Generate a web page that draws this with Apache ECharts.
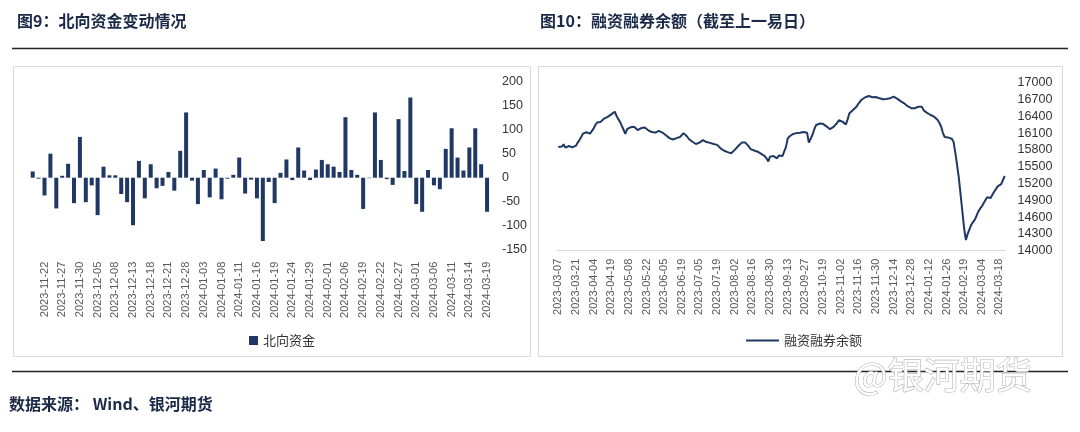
<!DOCTYPE html>
<html>
<head>
<meta charset="utf-8">
<script src="https://cdn.jsdelivr.net/npm/echarts@6/dist/echarts.min.js"></script>
<style>
html,body{margin:0;padding:0;background:#fff;}
#c{width:1080px;height:432px;}
</style>
</head>
<body>
<div id="c"></div>
<script>
// ---- Northbound flows (亿元) ----
const nbDates = [
'2023-11-20','2023-11-21','2023-11-22','2023-11-23','2023-11-24','2023-11-27','2023-11-28','2023-11-29','2023-11-30',
'2023-12-01','2023-12-04','2023-12-05','2023-12-06','2023-12-07','2023-12-08','2023-12-11','2023-12-12','2023-12-13','2023-12-14','2023-12-15','2023-12-18','2023-12-19','2023-12-20','2023-12-21','2023-12-22','2023-12-27','2023-12-28','2023-12-29',
'2024-01-02','2024-01-03','2024-01-04','2024-01-05','2024-01-08','2024-01-09','2024-01-10','2024-01-11','2024-01-12','2024-01-15','2024-01-16','2024-01-17','2024-01-18','2024-01-19','2024-01-22','2024-01-23','2024-01-24','2024-01-25','2024-01-26','2024-01-29','2024-01-30','2024-01-31',
'2024-02-01','2024-02-02','2024-02-05','2024-02-06','2024-02-07','2024-02-08','2024-02-19','2024-02-20','2024-02-21','2024-02-22','2024-02-23','2024-02-26','2024-02-27','2024-02-28','2024-02-29',
'2024-03-01','2024-03-04','2024-03-05','2024-03-06','2024-03-07','2024-03-08','2024-03-11','2024-03-12','2024-03-13','2024-03-14','2024-03-15','2024-03-18','2024-03-19'
];
const nbValues = [
13,-2,-37,50,-64,4,29,-53,85,
-51,-16,-78,23,5,5,-34,-51,-99,35,-43,28,-22,-17,12,-27,56,136,-6,
-55,16,-41,19,-45,-2,6,42,-33,-4,-43,-132,-9,-53,10,38,-5,63,15,-5,17,37,
28,23,12,126,16,6,-65,-1,136,37,-3,-15,122,14,167,
-55,-71,16,-16,-24,60,103,42,15,63,103,28,-71
];
const nbTicks = [-150,-100,-50,0,50,100,150,200];

// ---- Margin balance (亿元) ----
const mgDates = [
'2023-03-07','2023-03-08','2023-03-09','2023-03-10','2023-03-13','2023-03-14','2023-03-15','2023-03-16','2023-03-17','2023-03-20','2023-03-21','2023-03-22','2023-03-23','2023-03-24','2023-03-27','2023-03-28','2023-03-29','2023-03-30','2023-03-31',
'2023-04-03','2023-04-04','2023-04-06','2023-04-07','2023-04-10','2023-04-11','2023-04-12','2023-04-13','2023-04-14','2023-04-17','2023-04-18','2023-04-19','2023-04-20','2023-04-21','2023-04-24','2023-04-25','2023-04-26','2023-04-27','2023-04-28',
'2023-05-04','2023-05-05','2023-05-08','2023-05-09','2023-05-10','2023-05-11','2023-05-12','2023-05-15','2023-05-16','2023-05-17','2023-05-18','2023-05-19','2023-05-22','2023-05-23','2023-05-24','2023-05-25','2023-05-26','2023-05-29','2023-05-30','2023-05-31',
'2023-06-01','2023-06-02','2023-06-05','2023-06-06','2023-06-07','2023-06-08','2023-06-09','2023-06-12','2023-06-13','2023-06-14','2023-06-15','2023-06-16','2023-06-19','2023-06-20','2023-06-21','2023-06-26','2023-06-27','2023-06-28','2023-06-29','2023-06-30',
'2023-07-03','2023-07-04','2023-07-05','2023-07-06','2023-07-07','2023-07-10','2023-07-11','2023-07-12','2023-07-13','2023-07-14','2023-07-17','2023-07-18','2023-07-19','2023-07-20','2023-07-21','2023-07-24','2023-07-25','2023-07-26','2023-07-27','2023-07-28','2023-07-31',
'2023-08-01','2023-08-02','2023-08-03','2023-08-04','2023-08-07','2023-08-08','2023-08-09','2023-08-10','2023-08-11','2023-08-14','2023-08-15','2023-08-16','2023-08-17','2023-08-18','2023-08-21','2023-08-22','2023-08-23','2023-08-24','2023-08-25','2023-08-28','2023-08-29','2023-08-30','2023-08-31',
'2023-09-01','2023-09-04','2023-09-05','2023-09-06','2023-09-07','2023-09-08','2023-09-11','2023-09-12','2023-09-13','2023-09-14','2023-09-15','2023-09-18','2023-09-19','2023-09-20','2023-09-21','2023-09-22','2023-09-25','2023-09-26','2023-09-27','2023-09-28',
'2023-10-09','2023-10-10','2023-10-11','2023-10-12','2023-10-13','2023-10-16','2023-10-17','2023-10-18','2023-10-19','2023-10-20','2023-10-23','2023-10-24','2023-10-25','2023-10-26','2023-10-27','2023-10-30','2023-10-31',
'2023-11-01','2023-11-02','2023-11-03','2023-11-06','2023-11-07','2023-11-08','2023-11-09','2023-11-10','2023-11-13','2023-11-14','2023-11-15','2023-11-16','2023-11-17','2023-11-20','2023-11-21','2023-11-22','2023-11-23','2023-11-24','2023-11-27','2023-11-28','2023-11-29','2023-11-30',
'2023-12-01','2023-12-04','2023-12-05','2023-12-06','2023-12-07','2023-12-08','2023-12-11','2023-12-12','2023-12-13','2023-12-14','2023-12-15','2023-12-18','2023-12-19','2023-12-20','2023-12-21','2023-12-22','2023-12-25','2023-12-26','2023-12-27','2023-12-28','2023-12-29',
'2024-01-02','2024-01-03','2024-01-04','2024-01-05','2024-01-08','2024-01-09','2024-01-10','2024-01-11','2024-01-12','2024-01-15','2024-01-16','2024-01-17','2024-01-18','2024-01-19','2024-01-22','2024-01-23','2024-01-24','2024-01-25','2024-01-26','2024-01-29','2024-01-30','2024-01-31',
'2024-02-01','2024-02-02','2024-02-05','2024-02-06','2024-02-07','2024-02-08','2024-02-19','2024-02-20','2024-02-21','2024-02-22','2024-02-23','2024-02-26','2024-02-27','2024-02-28','2024-02-29',
'2024-03-01','2024-03-04','2024-03-05','2024-03-06','2024-03-07','2024-03-08','2024-03-11','2024-03-12','2024-03-13','2024-03-14','2024-03-15','2024-03-18','2024-03-19','2024-03-20','2024-03-21'
];
const mgValues = [
15850,15875,15860,15900,15840,15860,15870,15855,15845,15860,15875,15930,15975,16030,16090,16125,16115,16110,16090,16060,
16180,16245,16290,16305,16300,16330,16360,16355,16390,16400,16435,16460,16482,16410,16350,16300,16230,16160,16085,16170,
16180,16205,16220,16215,16180,16155,16175,16190,16205,16200,16170,16150,16125,16120,16105,16110,16125,16140,16135,16110,
16095,16060,16035,16010,15995,15985,15995,16010,16025,16030,16048,16100,16125,16040,15995,15960,15946,15920,15905,15915,
15930,15955,15975,15960,15940,15930,15925,15910,15905,15900,15890,15860,15828,15800,15785,15768,15760,15745,15740,15770,
15800,15830,15870,15900,15930,15946,15930,15905,15860,15815,15800,15790,15775,15768,15750,15730,15709,15690,15650,15595,
15680,15709,15690,15670,15650,15700,15720,15690,15655,15850,16000,16040,16070,16084,16090,16100,16105,16107,16110,16120,
16125,16107,15930,15960,16066,16160,16240,16255,16270,16274,16265,16245,16220,16195,16170,16185,16210,16215,16280,16330,
16334,16305,16280,16256,16350,16453,16480,16512,16540,16572,16620,16661,16700,16730,16740,16735,16762,16755,16740,16739,
16745,16730,16721,16715,16705,16703,16710,16700,16721,16735,16750,16740,16715,16691,16670,16650,16632,16610,16580,16554,
16545,16560,16542,16560,16572,16575,16572,16510,16482,16460,16440,16423,16410,16393,16370,16334,16280,16214,16100,16030,
16007,16020,16048,16000,15946,15750,15530,15300,15000,14700,14400,14190,14300,14380,14460,14510,14550,14620,14696,14750,
14790,14816,14900,14953,14945,14940,15000,15053,15100,15150,15185,15190,15200,15334
];
const mgTicks = [14000,14300,14600,14900,15200,15500,15800,16100,16400,16700,17000];

const NAVY = '#1f3864';
const chart = echarts.init(document.getElementById('c'), null, {renderer:'canvas'});
const titleStyle = {fontSize:16, fontWeight:'bold', color:'#1b2a47', fontFamily:'Noto Sans CJK SC'};
const axisFont = 'Liberation Sans';
const plain = function(v){ return String(v); };

const option = {
  animation:false,
  backgroundColor:'#fff',
  title:[
    {text:'图9：北向资金变动情况', left:12, top:8, textStyle:titleStyle},
    {text:'图10：融资融券余额（截至上一易日）', left:535, top:8, textStyle:titleStyle}
  ],
  legend:[
    {data:['北向资金'], left:244, top:329, itemWidth:9, itemHeight:9, icon:'rect',
     textStyle:{fontSize:13, color:'#333', fontFamily:'Noto Sans CJK SC'}},
    {data:['融资融券余额'], left:741, top:329, itemWidth:33, itemHeight:2, icon:'rect',
     textStyle:{fontSize:13, color:'#333', fontFamily:'Noto Sans CJK SC'}}
  ],
  grid:[
    {left:29.75, right:590, top:81.7, bottom:182.3},
    {left:557.4, right:74.4, top:82.7, bottom:181.3}
  ],
  xAxis:[
    {type:'category', gridIndex:0, data:nbDates, boundaryGap:true,
     axisLine:{show:false}, axisTick:{show:false},
     axisLabel:{rotate:90, fontSize:11, color:'#595959', fontFamily:axisFont, margin:12,
       interval:function(i){return (i-2)%3===0;}}},
    {type:'category', gridIndex:1, data:mgDates, boundaryGap:true,
     axisLine:{show:true, lineStyle:{color:'#d9d9d9', width:1}}, axisTick:{show:false},
     axisLabel:{rotate:90, fontSize:11, color:'#595959', fontFamily:axisFont, margin:8, interval:9}}
  ],
  yAxis:[
    {type:'value', gridIndex:0, position:'right', min:nbTicks[0], max:nbTicks[nbTicks.length-1], interval:50,
     axisLine:{show:false}, axisTick:{show:false}, splitLine:{show:false},
     axisLabel:{fontSize:12.5, color:'#333', fontFamily:axisFont, margin:12, align:'left', formatter:plain}},
    {type:'value', gridIndex:1, position:'right', min:mgTicks[0], max:mgTicks[mgTicks.length-1], interval:300,
     axisLine:{show:false}, axisTick:{show:false}, splitLine:{show:false},
     axisLabel:{fontSize:12.5, color:'#333', fontFamily:axisFont, margin:12, align:'left', formatter:plain}}
  ],
  series:[
    {name:'北向资金', type:'bar', xAxisIndex:0, yAxisIndex:0, data:nbValues, barWidth:'68%',
     itemStyle:{color:NAVY}},
    {name:'融资融券余额', type:'line', xAxisIndex:1, yAxisIndex:1, data:mgValues, showSymbol:false,
     symbol:'none', lineStyle:{color:NAVY, width:2}, itemStyle:{color:NAVY}}
  ],
  graphic:[
    {type:'rect', z:-10, shape:{x:13.5, y:66.5, width:517, height:290}, style:{fill:'none', stroke:'#d9d9d9', lineWidth:1}},
    {type:'rect', z:-10, shape:{x:538.5, y:66.5, width:524, height:290}, style:{fill:'none', stroke:'#d9d9d9', lineWidth:1}},
    {type:'line', shape:{x1:12, y1:48.5, x2:1068, y2:48.5}, style:{stroke:'#222', lineWidth:1.3}},
    {type:'line', shape:{x1:12, y1:371.5, x2:1068, y2:371.5}, style:{stroke:'#222', lineWidth:1.3}},
    {type:'text', left:9, top:396, style:{text:'数据来源： Wind、银河期货', fontSize:16, fontWeight:'bold',
      fill:'#1b2a47', fontFamily:'Noto Sans CJK SC'}},
    {type:'text', left:853, top:357, z:100, style:{text:'@银河期货', fontSize:36, fill:'#ffffff',
      stroke:'#b5b5b5', lineWidth:1.2, fontFamily:'Noto Sans CJK SC',
      shadowColor:'rgba(0,0,0,0.25)', shadowBlur:2, shadowOffsetX:1, shadowOffsetY:1}}
  ]
};
chart.setOption(option);
</script>
</body>
</html>
